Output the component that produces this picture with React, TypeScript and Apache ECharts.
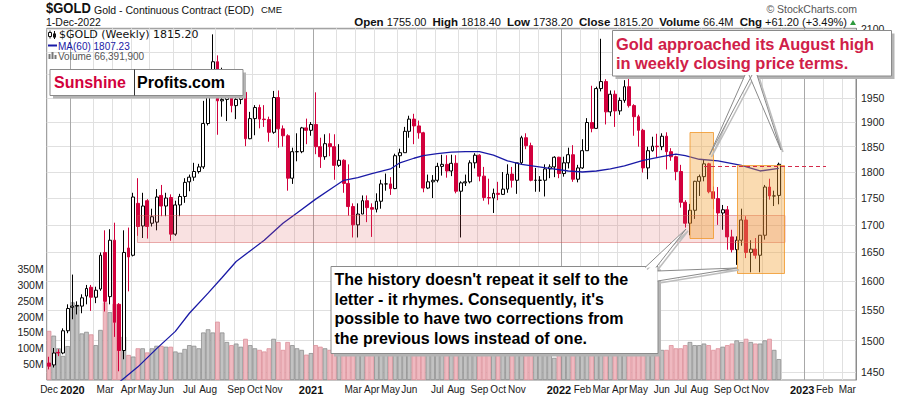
import React, { useEffect, useRef } from "react";
import * as echarts from "echarts";

// ---------- DATA (weekly, first week ends 2019-12-06) ----------
const opens = [
  1464, 1461, 1481, 1480, 1516, 1555, 1557, 1557, 1574, 1589,
  1572, 1586, 1650, 1573, 1672, 1560, 1484, 1658, 1645, 1740,
  1698, 1745, 1703, 1705, 1755, 1735, 1751, 1683, 1737, 1753,
  1781, 1790, 1801, 1810, 1897, 1985, 2028, 1944, 1947, 1975,
  1934, 1947, 1962, 1866, 1907, 1930, 1906, 1905, 1879, 1951,
  1886, 1872, 1788, 1840, 1840, 1888, 1883, 1895, 1850, 1830,
  1856, 1850, 1813, 1823, 1778, 1734, 1700, 1720, 1745, 1732,
  1729, 1744, 1777, 1777, 1768, 1832, 1838, 1881, 1906, 1892,
  1878, 1769, 1781, 1784, 1811, 1815, 1802, 1817, 1763, 1779,
  1781, 1818, 1833, 1792, 1751, 1750, 1759, 1757, 1767, 1796,
  1784, 1818, 1868, 1852, 1784, 1784, 1784, 1806, 1810, 1829,
  1797, 1818, 1834, 1786, 1808, 1842, 1899, 1887, 1970, 1985,
  1921, 1958, 1923, 1945, 1974, 1934, 1911, 1883, 1808, 1842,
  1851, 1850, 1871, 1840, 1830, 1801, 1742, 1703, 1727, 1782,
  1791, 1816, 1762, 1749, 1722, 1728, 1678, 1655, 1672, 1709,
  1650, 1656, 1645, 1681, 1771, 1754, 1755,
];
const highs = [
  1474, 1488, 1486, 1520, 1560, 1611, 1565, 1577, 1593, 1593,
  1590, 1650, 1690, 1692, 1704, 1562, 1690, 1695, 1760, 1788,
  1760, 1748, 1730, 1767, 1775, 1760, 1757, 1745, 1758, 1788,
  1795, 1818, 1816, 1944, 1986, 2089, 2042, 2015, 1983, 2001,
  1973, 1978, 1963, 1921, 1935, 1936, 1935, 1911, 1965, 1966,
  1893, 1875, 1848, 1877, 1890, 1907, 1900, 1962, 1868, 1875,
  1877, 1875, 1855, 1825, 1815, 1740, 1740, 1755, 1755, 1740,
  1759, 1785, 1797, 1790, 1836, 1846, 1890, 1913, 1917, 1903,
  1880, 1795, 1794, 1818, 1834, 1833, 1834, 1833, 1782, 1795,
  1823, 1837, 1835, 1810, 1787, 1768, 1781, 1800, 1815, 1810,
  1818, 1872, 1877, 1858, 1808, 1792, 1815, 1815, 1831, 1830,
  1830, 1848, 1853, 1814, 1865, 1908, 1976, 1974, 2079, 1990,
  1966, 1966, 1951, 1988, 2003, 1937, 1915, 1886, 1850, 1870,
  1876, 1877, 1879, 1847, 1832, 1814, 1746, 1739, 1783, 1795,
  1824, 1818, 1772, 1771, 1737, 1735, 1691, 1679, 1730, 1716,
  1672, 1676, 1681, 1775, 1787, 1764, 1818.4,
];
const lows = [
  1454, 1457, 1475, 1478, 1512, 1535, 1543, 1545, 1560, 1549,
  1562, 1583, 1548, 1560, 1506, 1451, 1470, 1582, 1643, 1680,
  1676, 1675, 1697, 1690, 1716, 1716, 1671, 1680, 1716, 1741,
  1763, 1783, 1797, 1806, 1893, 1977, 1874, 1911, 1902, 1920,
  1906, 1937, 1851, 1865, 1873, 1887, 1890, 1860, 1876, 1848,
  1850, 1764, 1777, 1821, 1837, 1855, 1872, 1835, 1808, 1824,
  1831, 1785, 1810, 1760, 1717, 1677, 1677, 1720, 1705, 1678,
  1723, 1730, 1764, 1756, 1767, 1808, 1838, 1868, 1855, 1866,
  1761, 1767, 1750, 1780, 1793, 1789, 1792, 1759, 1677, 1773,
  1778, 1807, 1782, 1745, 1738, 1722, 1746, 1756, 1760, 1770,
  1758, 1815, 1845, 1782, 1762, 1762, 1753, 1788, 1790, 1788,
  1791, 1807, 1781, 1780, 1806, 1842, 1879, 1886, 1964, 1895,
  1912, 1890, 1915, 1940, 1930, 1872, 1850, 1799, 1786, 1840,
  1829, 1843, 1805, 1822, 1784, 1732, 1695, 1681, 1711, 1754,
  1782, 1759, 1729, 1700, 1691, 1655, 1650, 1628, 1662, 1640,
  1615, 1639, 1615, 1673, 1747, 1735, 1738.2,
];
const closes = [
  1459, 1480, 1480, 1516, 1553, 1557, 1558, 1571, 1587, 1572,
  1584, 1645, 1565, 1672, 1530, 1484, 1650, 1642, 1752, 1697,
  1735, 1697, 1715, 1752, 1735, 1750, 1683, 1737, 1753, 1780,
  1790, 1801, 1810, 1897, 1985, 2028, 1944, 1947, 1975, 1934,
  1947, 1962, 1866, 1907, 1930, 1906, 1905, 1879, 1951, 1886,
  1872, 1788, 1840, 1840, 1888, 1883, 1895, 1850, 1830, 1856,
  1850, 1813, 1823, 1778, 1734, 1700, 1720, 1745, 1732, 1729,
  1744, 1777, 1777, 1768, 1832, 1838, 1881, 1906, 1892, 1878,
  1769, 1781, 1784, 1811, 1815, 1802, 1817, 1763, 1779, 1781,
  1818, 1833, 1792, 1751, 1750, 1759, 1757, 1767, 1796, 1784,
  1818, 1868, 1852, 1784, 1784, 1784, 1806, 1810, 1829, 1797,
  1818, 1834, 1786, 1808, 1842, 1899, 1887, 1970, 1985, 1921,
  1958, 1923, 1945, 1974, 1934, 1911, 1883, 1808, 1842, 1851,
  1850, 1871, 1840, 1830, 1801, 1742, 1703, 1727, 1782, 1791,
  1816, 1762, 1749, 1722, 1728, 1678, 1655, 1672, 1709, 1650,
  1656, 1645, 1681, 1771, 1754, 1754, 1815.2,
];
// volume in millions
const volumes = [
  155, 140, 100, 76, 107, 245, 237, 147, 152, 144,
  110, 158, 245, 214, 240, 137, 137, 79, 74, 100,
  100, 87, 100, 108, 108, 105, 105, 90, 86, 98,
  110, 108, 100, 150, 160, 150, 184, 150, 120, 110,
  115, 105, 130, 110, 100, 95, 90, 100, 130, 120,
  95, 120, 110, 100, 95, 80, 85, 110, 105, 100,
  95, 110, 100, 115, 120, 125, 105, 95, 95, 100,
  90, 95, 110, 95, 110, 100, 100, 100, 95, 100,
  120, 100, 95, 95, 95, 90, 100, 140, 100, 95,
  100, 105, 95, 90, 90, 95, 105, 95, 100, 110,
  115, 120, 105, 115, 95, 90, 95, 80, 70, 80,
  85, 90, 100, 100, 110, 115, 120, 125, 140, 120,
  110, 105, 100, 100, 105, 110, 110, 120, 120, 110,
  100, 95, 95, 110, 100, 100, 110, 120, 110, 110,
  115, 110, 95, 100, 105, 110, 115, 125, 120, 130,
  120, 115, 115, 125, 130, 95, 66,
];
// MA(60) at these weeks
const maWeeks = [14, 19, 23, 27, 30, 34, 37, 40, 46, 50, 53, 57, 61, 63, 66, 69, 73, 75, 78, 80, 83, 86, 89, 92, 95, 98, 101, 104, 107, 111, 114, 117, 120, 123, 127, 131, 134, 136, 139, 143, 148, 152, 156];
const maValues = [1428, 1458, 1487, 1515, 1545, 1579, 1606, 1634, 1672, 1703, 1722, 1748, 1772, 1784, 1789, 1797, 1806, 1818, 1827, 1832, 1836, 1839, 1840, 1840, 1833, 1822, 1815, 1811, 1807, 1802, 1800, 1802, 1806, 1812, 1823, 1830, 1835, 1832, 1825, 1822, 1813, 1802, 1807];

// price gridlines; the 2000 and 2050 labels sit under the callout box
const priceTicks = [1450, 1500, 1550, 1600, 1650, 1700, 1750, 1800, 1850, 1900, 1950, 2000, 2050, 2100];
const priceLabels = [1450, 1500, 1550, 1600, 1650, 1700, 1750, 1800, 1850, 1900, 1950, 2100];
const volumeTicks = [50, 100, 150, 200, 250, 300, 350];
// x-axis labels: week-ending date of the bar the label sits under
const xLabelWeeks = [
  "2019-12-06", "2020-01-10", "2020-02-28", "2020-04-03", "2020-05-01", "2020-05-29", "2020-07-03", "2020-07-31",
  "2020-09-11", "2020-10-09", "2020-11-06", "2021-01-01", "2021-03-05", "2021-04-02", "2021-04-30", "2021-05-28",
  "2021-07-09", "2021-08-06", "2021-09-10", "2021-10-08", "2021-11-05", "2022-01-07", "2022-02-11", "2022-03-11",
  "2022-04-08", "2022-05-06", "2022-06-10", "2022-07-08", "2022-08-05", "2022-09-09", "2022-10-07", "2022-11-04",
  "2023-01-06", "2023-02-10", "2023-03-10",
];
const xLabelTexts = [
  "Dec", "2020", "Mar", "Apr", "May", "Jun", "Jul", "Aug",
  "Sep", "Oct", "Nov", "2021", "Mar", "Apr", "May", "Jun",
  "Jul", "Aug", "Sep", "Oct", "Nov", "2022", "Feb", "Mar",
  "Apr", "May", "Jun", "Jul", "Aug", "Sep", "Oct", "Nov",
  "2023", "Feb", "Mar",
];
const NUM_WEEKS = 173;
const FIRST_WEEK = "2019-12-06";

// ---------- helpers ----------
const DAY = 86400000;
const START = Date.parse(FIRST_WEEK + "T00:00:00Z");
const weekEnds = Array.from({ length: NUM_WEEKS }, (_, i) => START + i * 7 * DAY);
const categories = weekEnds.map((t) => new Date(t).toISOString().slice(0, 10));

const labelAt = new Map<number, string>();
xLabelWeeks.forEach((d, j) => labelAt.set(categories.indexOf(d), xLabelTexts[j]));

// month gridlines: before the first bar ending at least a week into the month
const gridAt = new Set<number>();
for (let j = 0; j < 39; j++) {
  const ms = Date.UTC(2020, j, 1) + 7 * DAY;
  const k = weekEnds.findIndex((t) => t >= ms);
  if (k > 0) gridAt.add(k);
}

const L = Math.log;
const FONT = '"Liberation Sans", Arial, sans-serif';
const RED = "#d2003c";

function buildOption() {
  const candleData = opens.map((o, i) => [L(o), L(closes[i]), L(lows[i]), L(highs[i])]);
  const volData = volumes.map((v, i) => {
    const down = i > 0 ? closes[i] < closes[i - 1] : closes[i] < opens[i];
    return {
      value: v,
      itemStyle: down
        ? { color: "#efb9c0", borderColor: "#dc8f99", borderWidth: 0.8 }
        : { color: "#c2c2c2", borderColor: "#8e8e8e", borderWidth: 0.8 },
    };
  });
  const maData: (number | null)[] = closes.map(() => null);
  maWeeks.forEach((w, i) => (maData[w] = L(maValues[i])));

  const gridColors = ["#a8a8a8", "#e0e0e0", "#e0e0e0", "#e0e0e0", "#e0e0e0", "#e0e0e0", "#e0e0e0", "#e0e0e0", "#e0e0e0", "#e0e0e0", "#e0e0e0", "#e0e0e0"];

  const txt = (x: number, y: number, text: string, font: string, fill: string, align = "left", z = 50): any => ({
    type: "text", x, y, z,
    style: { text, font, fill, textAlign: align, textVerticalAlign: "middle" },
  });

  const bubble = (x: number, y: number, w: number, h: number, z: number) => [
    { type: "rect", z, shape: { x: x + 3, y: y + 3, width: w, height: h }, style: { fill: "#b4b4b4" } },
    { type: "rect", z: z + 1, shape: { x, y, width: w, height: h }, style: { fill: "#fff", stroke: "#8a8a8a", lineWidth: 1 } },
  ];
  const wedge = (a: number[], tip: number[], b: number[], z: number) => [
    { type: "polyline", z, shape: { points: [[a[0] + 2, a[1] + 2], [tip[0] + 2, tip[1] + 2], [b[0] + 2, b[1] + 2]] }, style: { stroke: "#bdbdbd", fill: null, lineWidth: 1.5 } },
    { type: "polygon", z: z + 2, shape: { points: [a, tip, b] }, style: { fill: "#fff", stroke: null } },
    { type: "polyline", z: z + 3, shape: { points: [a, tip, b] }, style: { stroke: "#8a8a8a", fill: null, lineWidth: 1 } },
  ];

  const graphic: any[] = [
    // header
    { type: "text", x: 46, y: 9, z: 50, scaleY: 1.12, originY: 9, style: { text: "$GOLD", font: `bold 13px ${FONT}`, fill: "#111", textAlign: "left", textVerticalAlign: "middle" } },
    txt(94, 9.5, "Gold - Continuous Contract (EOD)", `10.5px ${FONT}`, "#111"),
    txt(261, 9.5, "CME", `9.5px ${FONT}`, "#111"),
    txt(46, 22, "1-Dec-2022", `10.5px ${FONT}`, "#111"),
    txt(857, 9, "\u00a9 StockCharts.com", `10.5px ${FONT}`, "#555", "right"),
    {
      type: "text", x: 847, y: 22, z: 50,
      style: {
        text: "{b|Open} 1755.00  {b|High} 1818.40  {b|Low} 1738.20  {b|Close} 1815.20  {b|Volume} 66.4M  {b|Chg} +61.20 (+3.49%)",
        font: `11px ${FONT}`, fill: "#111", textAlign: "right", textVerticalAlign: "middle",
        rich: { b: { font: `bold 11.5px ${FONT}`, fill: "#111" } },
      },
    },
    { type: "polygon", z: 50, shape: { points: [[850, 25], [856, 25], [853, 20]] }, style: { fill: "#2e9a3e" } },
    // legend in plot
    { type: "line", z: 50, shape: { x1: 50, y1: 30.5, x2: 50, y2: 38.5 }, style: { stroke: "#111", lineWidth: 1 } },
    { type: "rect", z: 51, shape: { x: 48.5, y: 32.5, width: 3, height: 4 }, style: { fill: "#fff", stroke: "#111", lineWidth: 1 } },
    { type: "line", z: 50, shape: { x1: 54.5, y1: 31, x2: 54.5, y2: 39 }, style: { stroke: "#111", lineWidth: 1 } },
    { type: "rect", z: 51, shape: { x: 53, y: 33.5, width: 3, height: 4 }, style: { fill: "#111" } },
    txt(59, 34.5, "$GOLD (Weekly) 1815.20", `11px "DejaVu Sans", sans-serif`, "#111"),
    { type: "line", z: 50, shape: { x1: 48, y1: 45.5, x2: 57, y2: 45.5 }, style: { stroke: "#1a1aa6", lineWidth: 2 } },
    txt(58, 46, "MA(60) 1807.23", `10px ${FONT}`, "#1a1aa6"),
    { type: "rect", z: 50, shape: { x: 48.5, y: 54, width: 2, height: 5 }, style: { fill: "#777" } },
    { type: "rect", z: 50, shape: { x: 51.5, y: 52, width: 2, height: 7 }, style: { fill: "#777" } },
    { type: "rect", z: 50, shape: { x: 54.5, y: 55, width: 2, height: 4 }, style: { fill: "#777" } },
    txt(58, 56, "Volume 66,391,900", `10px ${FONT}`, "#555"),
    // Sunshine Profits logo
    ...bubble(50, 69.5, 193, 26, 60),
    { type: "line", z: 62, shape: { x1: 134.5, y1: 69.5, x2: 134.5, y2: 95.5 }, style: { stroke: "#333", lineWidth: 1 } },
    txt(54, 82, "Sunshine", `bold 16px ${FONT}`, RED, "left", 63),
    txt(137, 82, "Profits.com", `bold 16px ${FONT}`, "#000", "left", 63),
    // support band & boxes
    { type: "rect", z: 20, shape: { x: 137.5, y: 215.5, width: 647.5, height: 27 }, style: { fill: "rgba(222,90,90,0.18)", stroke: "rgba(210,80,80,0.45)", lineWidth: 1 } },
    { type: "rect", z: 21, shape: { x: 690, y: 132.5, width: 23.5, height: 106 }, style: { fill: "rgba(243,160,50,0.38)", stroke: "rgba(240,150,40,0.8)", lineWidth: 1 } },
    { type: "rect", z: 21, shape: { x: 737.5, y: 165.5, width: 47, height: 108 }, style: { fill: "rgba(243,160,50,0.38)", stroke: "rgba(240,150,40,0.8)", lineWidth: 1 } },
    { type: "line", z: 22, shape: { x1: 704, y1: 166.5, x2: 826, y2: 166.5 }, style: { stroke: "#d42a4a", lineWidth: 1, lineDash: [4, 3] } },
    // top annotation
    ...bubble(612.5, 30.5, 279, 45.5, 70),
    ...wedge([745, 75], [709.5, 155], [752, 75], 72),
    ...wedge([749, 75], [781, 150], [757, 75], 72),
    txt(616, 43.5, "Gold approached its August high", `bold 16.4px ${FONT}`, "#d02048", "left", 80),
    txt(616, 62.5, "in weekly closing price terms.", `bold 16.4px ${FONT}`, "#d02048", "left", 80),
    // bottom annotation
    ...bubble(331, 266.5, 327, 87, 70),
    ...wedge([645, 267.5], [686, 229], [656, 267.5], 72),
    ...wedge([657.5, 271], [737, 268], [657.5, 281], 72),
    txt(334.5, 279.5, "The history doesn't repeat it self to the", `bold 16px ${FONT}`, "#000", "left", 80),
    txt(334.5, 299, "letter - it rhymes. Consequently, it's", `bold 16px ${FONT}`, "#000", "left", 80),
    txt(334.5, 318.5, "possible to have two corrections from", `bold 16px ${FONT}`, "#000", "left", 80),
    txt(334.5, 338, "the previous lows instead of one.", `bold 16px ${FONT}`, "#000", "left", 80),
  ];

  return {
    animation: false,
    backgroundColor: "#ffffff",
    grid: { left: 46.7, right: 44, top: 28.3, bottom: 16, show: true, borderColor: "#8c8c8c", borderWidth: 1, backgroundColor: "transparent" },
    xAxis: {
      type: "category",
      data: categories,
      boundaryGap: true,
      axisLine: { show: false },
      axisTick: { show: false },
      axisLabel: {
        interval: (i: number) => labelAt.has(i),
        showMinLabel: true,
        formatter: (_v: string, i: number) => {
          const s = labelAt.get(i) || "";
          if (/^\d{4}$/.test(s)) return `{y|${s}}`;
          if (i === categories.indexOf("2023-02-10")) return `{l|${s}}`;
          if (i === categories.indexOf("2023-03-10")) return `{r|${s}}`;
          return s;
        },
        margin: 4,
        fontFamily: "Liberation Sans",
        fontSize: 10,
        color: "#1a1a1a",
        rich: {
          y: { fontWeight: "bold", fontSize: 11, fontFamily: "Liberation Sans", color: "#111" },
          l: { fontSize: 10, fontFamily: "Liberation Sans", color: "#1a1a1a", padding: [0, 2, 0, 0] },
          r: { fontSize: 10, fontFamily: "Liberation Sans", color: "#1a1a1a", padding: [0, 0, 0, 6] },
        },
      },
      splitLine: { show: true, interval: (i: number) => gridAt.has(i), lineStyle: { color: gridColors, width: 1 } },
    },
    yAxis: [
      {
        type: "value",
        position: "right",
        min: L(1437.4),
        max: L(2102.7),
        axisLine: { show: true, lineStyle: { color: "#8c8c8c" } },
        axisTick: { show: false, customValues: priceTicks.map(L) },
        axisLabel: {
          customValues: priceLabels.map(L),
          formatter: (v: number) => String(Math.round(Math.exp(v))),
          fontFamily: "Liberation Sans", fontSize: 10.5, color: "#222", margin: 5,
        },
        splitLine: { show: true, lineStyle: { color: "#e0e0e0", width: 1 } },
      },
      {
        type: "value",
        position: "left",
        min: 0,
        max: 1109.5,
        axisLine: { show: false },
        axisTick: { show: false, customValues: volumeTicks },
        axisLabel: {
          customValues: volumeTicks,
          formatter: (v: number) => `${v}M`,
          fontFamily: "Liberation Sans", fontSize: 10.5, color: "#222", margin: 3,
        },
        splitLine: { show: false },
      },
    ],
    series: [
      { type: "bar", name: "Volume", yAxisIndex: 1, data: volData, barCategoryGap: "0%", z: 1 },
      {
        type: "candlestick", name: "$GOLD", yAxisIndex: 0, data: candleData, barWidth: "72%", z: 3,
        itemStyle: { color: "#ffffff", color0: RED, borderColor: "#000000", borderColor0: RED, borderWidth: 1 },
      },
      {
        type: "line", name: "MA(60)", yAxisIndex: 0, data: maData, connectNulls: true, showSymbol: false,
        symbol: "none", lineStyle: { color: "#1a1aa6", width: 1.3 }, z: 4,
      },
    ],
    graphic,
  };
}

export default function App() {
  const ref = useRef<HTMLDivElement>(null);
  useEffect(() => {
    if (!ref.current) return;
    const chart = echarts.init(ref.current, undefined, { renderer: "svg", width: 900, height: 396 });
    chart.setOption(buildOption() as any);
    return () => chart.dispose();
  }, []);
  return <div ref={ref} style={{ position: "fixed", left: 0, top: 0, width: 900, height: 396, background: "#fff" }} />;
}
